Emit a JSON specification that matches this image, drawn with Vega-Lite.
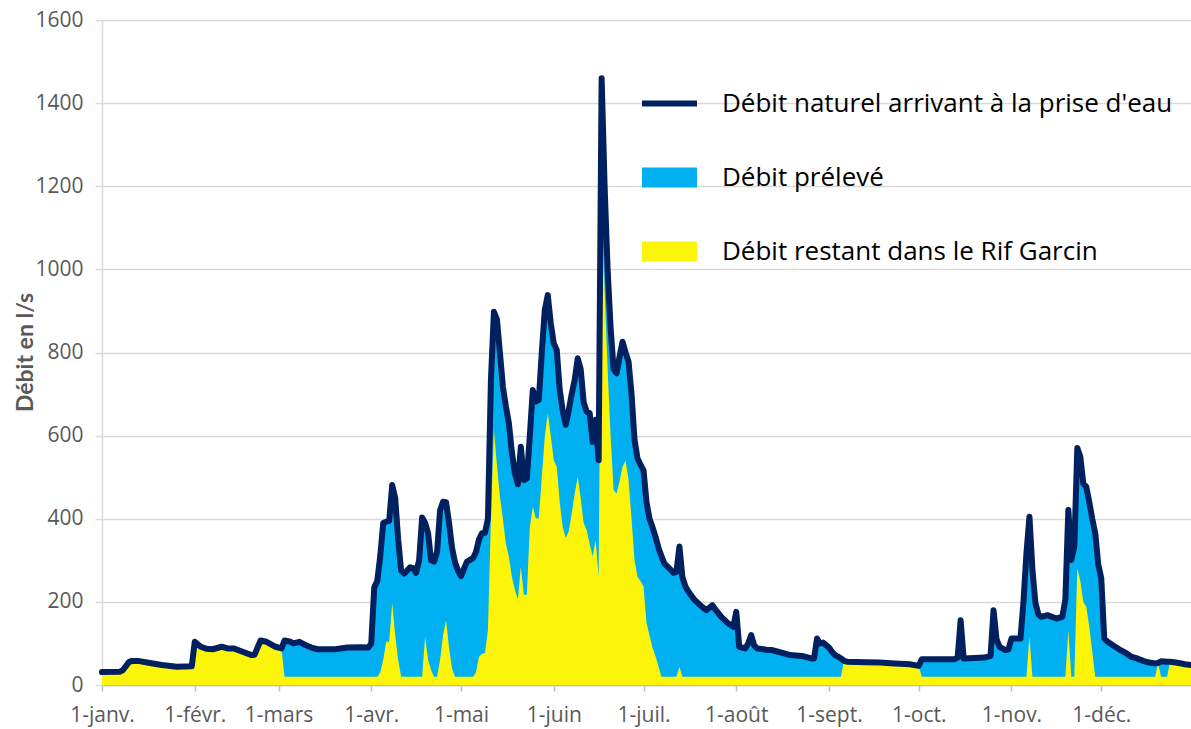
{
  "$schema": "https://vega.github.io/schema/vega-lite/v6.json",
  "width": 1089,
  "height": 665,
  "autosize": {"type": "none"},
  "padding": {"left": 102, "top": 20, "right": 0, "bottom": 44},
  "background": "white",
  "config": {"view": {"stroke": null}, "font": "Open Sans"},
  "data": {"values": [
    {"date":"2021-01-01","naturel":31,"restant":31},
    {"date":"2021-01-07","naturel":32,"restant":32},
    {"date":"2021-01-08","naturel":36,"restant":36},
    {"date":"2021-01-10","naturel":55,"restant":55},
    {"date":"2021-01-11","naturel":58,"restant":58},
    {"date":"2021-01-13","naturel":58,"restant":58},
    {"date":"2021-01-17","naturel":53,"restant":53},
    {"date":"2021-01-21","naturel":48,"restant":48},
    {"date":"2021-01-26","naturel":44,"restant":44},
    {"date":"2021-01-31","naturel":45,"restant":45},
    {"date":"2021-02-01","naturel":104,"restant":104},
    {"date":"2021-02-03","naturel":92,"restant":92},
    {"date":"2021-02-05","naturel":87,"restant":87},
    {"date":"2021-02-07","naturel":86,"restant":86},
    {"date":"2021-02-10","naturel":92,"restant":92},
    {"date":"2021-02-12","naturel":88,"restant":88},
    {"date":"2021-02-14","naturel":88,"restant":88},
    {"date":"2021-02-17","naturel":80,"restant":80},
    {"date":"2021-02-20","naturel":72,"restant":72},
    {"date":"2021-02-21","naturel":73,"restant":73},
    {"date":"2021-02-23","naturel":107,"restant":107},
    {"date":"2021-02-25","naturel":104,"restant":104},
    {"date":"2021-02-28","naturel":92,"restant":92},
    {"date":"2021-03-02","naturel":88,"restant":88},
    {"date":"2021-03-03","naturel":107,"restant":20},
    {"date":"2021-03-05","naturel":104,"restant":20},
    {"date":"2021-03-06","naturel":100,"restant":20},
    {"date":"2021-03-08","naturel":104,"restant":20},
    {"date":"2021-03-10","naturel":96,"restant":20},
    {"date":"2021-03-12","naturel":90,"restant":20},
    {"date":"2021-03-14","naturel":86,"restant":20},
    {"date":"2021-03-20","naturel":86,"restant":20},
    {"date":"2021-03-24","naturel":90,"restant":20},
    {"date":"2021-03-28","naturel":91,"restant":20},
    {"date":"2021-03-31","naturel":90,"restant":20},
    {"date":"2021-04-01","naturel":100,"restant":20},
    {"date":"2021-04-02","naturel":235,"restant":20},
    {"date":"2021-04-03","naturel":250,"restant":20},
    {"date":"2021-04-04","naturel":310,"restant":30},
    {"date":"2021-04-05","naturel":390,"restant":60},
    {"date":"2021-04-06","naturel":393,"restant":104},
    {"date":"2021-04-07","naturel":395,"restant":104},
    {"date":"2021-04-08","naturel":481,"restant":197},
    {"date":"2021-04-09","naturel":450,"restant":120},
    {"date":"2021-04-10","naturel":350,"restant":60},
    {"date":"2021-04-11","naturel":275,"restant":20},
    {"date":"2021-04-12","naturel":268,"restant":20},
    {"date":"2021-04-14","naturel":283,"restant":20},
    {"date":"2021-04-15","naturel":281,"restant":20},
    {"date":"2021-04-16","naturel":270,"restant":20},
    {"date":"2021-04-17","naturel":300,"restant":20},
    {"date":"2021-04-18","naturel":403,"restant":20},
    {"date":"2021-04-19","naturel":390,"restant":116},
    {"date":"2021-04-20","naturel":365,"restant":60},
    {"date":"2021-04-21","naturel":300,"restant":36},
    {"date":"2021-04-22","naturel":297,"restant":20},
    {"date":"2021-04-23","naturel":320,"restant":20},
    {"date":"2021-04-24","naturel":420,"restant":60},
    {"date":"2021-04-25","naturel":441,"restant":120},
    {"date":"2021-04-26","naturel":440,"restant":156},
    {"date":"2021-04-27","naturel":390,"restant":90},
    {"date":"2021-04-28","naturel":330,"restant":40},
    {"date":"2021-04-29","naturel":295,"restant":20},
    {"date":"2021-04-30","naturel":275,"restant":20},
    {"date":"2021-05-01","naturel":262,"restant":20},
    {"date":"2021-05-02","naturel":280,"restant":20},
    {"date":"2021-05-03","naturel":297,"restant":20},
    {"date":"2021-05-05","naturel":305,"restant":20},
    {"date":"2021-05-06","naturel":320,"restant":30},
    {"date":"2021-05-07","naturel":350,"restant":68},
    {"date":"2021-05-08","naturel":365,"restant":75},
    {"date":"2021-05-09","naturel":366,"restant":77},
    {"date":"2021-05-10","naturel":400,"restant":132},
    {"date":"2021-05-11","naturel":734,"restant":400},
    {"date":"2021-05-12","naturel":898,"restant":614},
    {"date":"2021-05-13","naturel":880,"restant":530},
    {"date":"2021-05-14","naturel":800,"restant":453},
    {"date":"2021-05-15","naturel":718,"restant":400},
    {"date":"2021-05-16","naturel":670,"restant":340},
    {"date":"2021-05-17","naturel":630,"restant":309},
    {"date":"2021-05-18","naturel":560,"restant":260},
    {"date":"2021-05-19","naturel":510,"restant":230},
    {"date":"2021-05-20","naturel":483,"restant":205},
    {"date":"2021-05-21","naturel":573,"restant":285},
    {"date":"2021-05-22","naturel":493,"restant":217},
    {"date":"2021-05-23","naturel":497,"restant":217},
    {"date":"2021-05-24","naturel":600,"restant":380},
    {"date":"2021-05-25","naturel":710,"restant":429},
    {"date":"2021-05-26","naturel":682,"restant":401},
    {"date":"2021-05-27","naturel":686,"restant":401},
    {"date":"2021-05-28","naturel":800,"restant":500},
    {"date":"2021-05-29","naturel":902,"restant":597},
    {"date":"2021-05-30","naturel":938,"restant":654},
    {"date":"2021-05-31","naturel":870,"restant":600},
    {"date":"2021-06-01","naturel":822,"restant":541},
    {"date":"2021-06-02","naturel":806,"restant":525},
    {"date":"2021-06-03","naturel":710,"restant":440},
    {"date":"2021-06-04","naturel":660,"restant":380},
    {"date":"2021-06-05","naturel":626,"restant":353},
    {"date":"2021-06-06","naturel":660,"restant":370},
    {"date":"2021-06-07","naturel":700,"restant":413},
    {"date":"2021-06-08","naturel":734,"restant":460},
    {"date":"2021-06-09","naturel":786,"restant":501},
    {"date":"2021-06-10","naturel":760,"restant":450},
    {"date":"2021-06-11","naturel":680,"restant":390},
    {"date":"2021-06-12","naturel":658,"restant":373},
    {"date":"2021-06-13","naturel":654,"restant":340},
    {"date":"2021-06-14","naturel":585,"restant":309},
    {"date":"2021-06-15","naturel":638,"restant":349},
    {"date":"2021-06-16","naturel":541,"restant":261},
    {"date":"2021-06-17","naturel":1460,"restant":1180},
    {"date":"2021-06-18","naturel":1200,"restant":950},
    {"date":"2021-06-19","naturel":1000,"restant":760},
    {"date":"2021-06-20","naturel":860,"restant":600},
    {"date":"2021-06-21","naturel":760,"restant":470},
    {"date":"2021-06-22","naturel":750,"restant":461},
    {"date":"2021-06-23","naturel":790,"restant":490},
    {"date":"2021-06-24","naturel":826,"restant":525},
    {"date":"2021-06-25","naturel":800,"restant":540},
    {"date":"2021-06-26","naturel":778,"restant":493},
    {"date":"2021-06-27","naturel":700,"restant":400},
    {"date":"2021-06-28","naturel":590,"restant":300},
    {"date":"2021-06-29","naturel":545,"restant":260},
    {"date":"2021-06-30","naturel":530,"restant":250},
    {"date":"2021-07-01","naturel":517,"restant":237},
    {"date":"2021-07-02","naturel":440,"restant":150},
    {"date":"2021-07-03","naturel":400,"restant":120},
    {"date":"2021-07-04","naturel":380,"restant":90},
    {"date":"2021-07-05","naturel":357,"restant":70},
    {"date":"2021-07-06","naturel":330,"restant":45},
    {"date":"2021-07-07","naturel":310,"restant":20},
    {"date":"2021-07-08","naturel":292,"restant":20},
    {"date":"2021-07-10","naturel":278,"restant":20},
    {"date":"2021-07-11","naturel":270,"restant":20},
    {"date":"2021-07-12","naturel":272,"restant":20},
    {"date":"2021-07-13","naturel":333,"restant":44},
    {"date":"2021-07-14","naturel":260,"restant":20},
    {"date":"2021-07-15","naturel":237,"restant":20},
    {"date":"2021-07-16","naturel":225,"restant":20},
    {"date":"2021-07-18","naturel":205,"restant":20},
    {"date":"2021-07-20","naturel":192,"restant":20},
    {"date":"2021-07-22","naturel":180,"restant":20},
    {"date":"2021-07-24","naturel":192,"restant":20},
    {"date":"2021-07-25","naturel":182,"restant":20},
    {"date":"2021-07-27","naturel":164,"restant":20},
    {"date":"2021-07-29","naturel":150,"restant":20},
    {"date":"2021-07-31","naturel":140,"restant":20},
    {"date":"2021-08-01","naturel":176,"restant":20},
    {"date":"2021-08-02","naturel":92,"restant":20},
    {"date":"2021-08-04","naturel":88,"restant":20},
    {"date":"2021-08-05","naturel":100,"restant":20},
    {"date":"2021-08-06","naturel":120,"restant":20},
    {"date":"2021-08-07","naturel":95,"restant":20},
    {"date":"2021-08-08","naturel":88,"restant":20},
    {"date":"2021-08-11","naturel":85,"restant":20},
    {"date":"2021-08-13","naturel":84,"restant":20},
    {"date":"2021-08-15","naturel":80,"restant":20},
    {"date":"2021-08-17","naturel":76,"restant":20},
    {"date":"2021-08-19","naturel":72,"restant":20},
    {"date":"2021-08-23","naturel":70,"restant":20},
    {"date":"2021-08-26","naturel":64,"restant":20},
    {"date":"2021-08-27","naturel":64,"restant":20},
    {"date":"2021-08-28","naturel":112,"restant":20},
    {"date":"2021-08-29","naturel":100,"restant":20},
    {"date":"2021-08-30","naturel":102,"restant":20},
    {"date":"2021-08-31","naturel":96,"restant":20},
    {"date":"2021-09-01","naturel":90,"restant":20},
    {"date":"2021-09-02","naturel":80,"restant":20},
    {"date":"2021-09-03","naturel":72,"restant":20},
    {"date":"2021-09-04","naturel":68,"restant":20},
    {"date":"2021-09-05","naturel":64,"restant":20},
    {"date":"2021-09-06","naturel":58,"restant":58},
    {"date":"2021-09-07","naturel":56,"restant":56},
    {"date":"2021-09-13","naturel":55,"restant":55},
    {"date":"2021-09-18","naturel":54,"restant":54},
    {"date":"2021-09-23","naturel":52,"restant":52},
    {"date":"2021-09-28","naturel":50,"restant":50},
    {"date":"2021-10-01","naturel":46,"restant":46},
    {"date":"2021-10-02","naturel":62,"restant":20},
    {"date":"2021-10-13","naturel":62,"restant":20},
    {"date":"2021-10-14","naturel":66,"restant":20},
    {"date":"2021-10-15","naturel":156,"restant":20},
    {"date":"2021-10-16","naturel":64,"restant":20},
    {"date":"2021-10-23","naturel":66,"restant":20},
    {"date":"2021-10-25","naturel":70,"restant":20},
    {"date":"2021-10-26","naturel":180,"restant":20},
    {"date":"2021-10-27","naturel":110,"restant":20},
    {"date":"2021-10-28","naturel":92,"restant":20},
    {"date":"2021-10-30","naturel":84,"restant":20},
    {"date":"2021-10-31","naturel":86,"restant":20},
    {"date":"2021-11-01","naturel":112,"restant":20},
    {"date":"2021-11-04","naturel":112,"restant":20},
    {"date":"2021-11-05","naturel":200,"restant":20},
    {"date":"2021-11-06","naturel":317,"restant":20},
    {"date":"2021-11-07","naturel":405,"restant":116},
    {"date":"2021-11-08","naturel":277,"restant":20},
    {"date":"2021-11-09","naturel":197,"restant":20},
    {"date":"2021-11-10","naturel":170,"restant":20},
    {"date":"2021-11-11","naturel":164,"restant":20},
    {"date":"2021-11-13","naturel":168,"restant":20},
    {"date":"2021-11-16","naturel":160,"restant":20},
    {"date":"2021-11-18","naturel":164,"restant":20},
    {"date":"2021-11-19","naturel":205,"restant":20},
    {"date":"2021-11-20","naturel":421,"restant":132},
    {"date":"2021-11-21","naturel":301,"restant":20},
    {"date":"2021-11-22","naturel":333,"restant":20},
    {"date":"2021-11-23","naturel":570,"restant":281},
    {"date":"2021-11-24","naturel":549,"restant":250},
    {"date":"2021-11-25","naturel":485,"restant":200},
    {"date":"2021-11-26","naturel":477,"restant":188},
    {"date":"2021-11-27","naturel":440,"restant":140},
    {"date":"2021-11-28","naturel":400,"restant":80},
    {"date":"2021-11-29","naturel":365,"restant":20},
    {"date":"2021-11-30","naturel":290,"restant":20},
    {"date":"2021-12-01","naturel":257,"restant":20},
    {"date":"2021-12-02","naturel":112,"restant":20},
    {"date":"2021-12-03","naturel":105,"restant":20},
    {"date":"2021-12-05","naturel":95,"restant":20},
    {"date":"2021-12-07","naturel":86,"restant":20},
    {"date":"2021-12-09","naturel":78,"restant":20},
    {"date":"2021-12-11","naturel":68,"restant":20},
    {"date":"2021-12-13","naturel":64,"restant":20},
    {"date":"2021-12-15","naturel":58,"restant":20},
    {"date":"2021-12-17","naturel":54,"restant":20},
    {"date":"2021-12-19","naturel":52,"restant":20},
    {"date":"2021-12-20","naturel":53,"restant":53},
    {"date":"2021-12-21","naturel":57,"restant":20},
    {"date":"2021-12-23","naturel":56,"restant":20},
    {"date":"2021-12-24","naturel":56,"restant":56},
    {"date":"2021-12-26","naturel":54,"restant":54},
    {"date":"2021-12-29","naturel":50,"restant":50},
    {"date":"2021-12-31","naturel":48,"restant":48}
  ]},
  "encoding": {
    "x": {
      "field": "date",
      "type": "temporal",
      "scale": {"type": "utc", "domain": [{"year": 2021, "month": 1, "date": 1, "utc": true}, {"year": 2021, "month": 12, "date": 31, "utc": true}]},
      "axis": {
        "title": null,
        "grid": false,
        "values": [
          {"year": 2021, "month": 1, "date": 1, "utc": true},
          {"year": 2021, "month": 2, "date": 1, "utc": true},
          {"year": 2021, "month": 3, "date": 1, "utc": true},
          {"year": 2021, "month": 4, "date": 1, "utc": true},
          {"year": 2021, "month": 5, "date": 1, "utc": true},
          {"year": 2021, "month": 6, "date": 1, "utc": true},
          {"year": 2021, "month": 7, "date": 1, "utc": true},
          {"year": 2021, "month": 8, "date": 1, "utc": true},
          {"year": 2021, "month": 9, "date": 1, "utc": true},
          {"year": 2021, "month": 10, "date": 1, "utc": true},
          {"year": 2021, "month": 11, "date": 1, "utc": true},
          {"year": 2021, "month": 12, "date": 1, "utc": true}
        ],
        "labelExpr": "'1-' + ['janv.','févr.','mars','avr.','mai','juin','juil.','août','sept.','oct.','nov.','déc.'][utcmonth(datum.value)]",
        "labelFlush": false,
        "labelOverlap": false,
        "labelFont": "Open Sans",
        "labelFontSize": 21,
        "labelColor": "#595959",
        "labelPadding": 13,
        "domainColor": "#bfbfbf",
        "domainWidth": 1.5,
        "tickColor": "#bfbfbf",
        "tickWidth": 1.5,
        "tickSize": 6
      }
    }
  },
  "layer": [
    {
      "mark": {"type": "area", "interpolate": "linear"},
      "encoding": {
        "y": {
          "field": "naturel",
          "type": "quantitative",
          "scale": {"domain": [0, 1600]},
          "axis": {
            "title": "Débit en l/s",
            "format": "d",
            "values": [0, 200, 400, 600, 800, 1000, 1200, 1400, 1600],
            "grid": true,
            "gridColor": "#d9d9d9",
            "gridWidth": 1.5,
            "domainColor": "#d9d9d9",
            "domainWidth": 1.5,
            "tickColor": "#d9d9d9",
            "tickWidth": 1.5,
            "tickSize": 7,
            "labelFont": "Open Sans",
            "labelFontSize": 21,
            "labelColor": "#595959",
            "labelPadding": 12,
            "titleFont": "Lato",
            "titleFontWeight": "bold",
            "titleFontSize": 23,
            "titleColor": "#595959",
            "titleX": -77,
            "titleY": 332,
            "titleAngle": 270,
            "titleAlign": "center",
            "titleBaseline": "middle"
          }
        },
        "color": {
          "datum": "Débit prélevé",
          "type": "nominal",
          "scale": {
            "domain": ["Débit naturel arrivant à la prise d'eau", "Débit prélevé", "Débit restant dans le Rif Garcin"],
            "range": ["#002060", "#00B0F0", "#FCF50A"]
          },
          "legend": {
            "orient": "none",
            "legendX": 540,
            "legendY": 56,
            "title": null,
            "padding": 0,
            "symbolSize": 3025,
            "symbolType": "square",
            "symbolStrokeWidth": 0,
            "labelFont": "Open Sans",
            "labelFontSize": 26,
            "labelColor": "#000000",
            "labelOffset": 25,
            "rowPadding": 33,
            "labelLimit": 600,
            "encode": {
              "symbols": {
                "update": {
                  "shape": {"signal": "indexof(datum.value, 'naturel') >= 0 ? 'M-1,-0.11H1V0.11H-1Z' : 'M-1,-0.36H1V0.36H-1Z'"},
                  "fill": {"signal": "indexof(datum.value, 'naturel') >= 0 ? '#002060' : (indexof(datum.value, 'prélevé') >= 0 ? '#00B0F0' : '#FCF50A')"},
                  "stroke": {"value": "transparent"},
                  "strokeWidth": {"value": 0},
                  "opacity": {"value": 1}
                }
              }
            }
          }
        }
      }
    },
    {
      "mark": {"type": "area", "interpolate": "linear"},
      "encoding": {
        "y": {"field": "restant", "type": "quantitative", "title": "Débit en l/s"},
        "color": {"datum": "Débit restant dans le Rif Garcin", "type": "nominal"}
      }
    },
    {
      "mark": {"type": "line", "strokeWidth": 6, "strokeJoin": "round", "strokeCap": "round"},
      "encoding": {
        "y": {"field": "naturel", "type": "quantitative", "title": "Débit en l/s"},
        "color": {"datum": "Débit naturel arrivant à la prise d'eau", "type": "nominal"}
      }
    }
  ]
}
